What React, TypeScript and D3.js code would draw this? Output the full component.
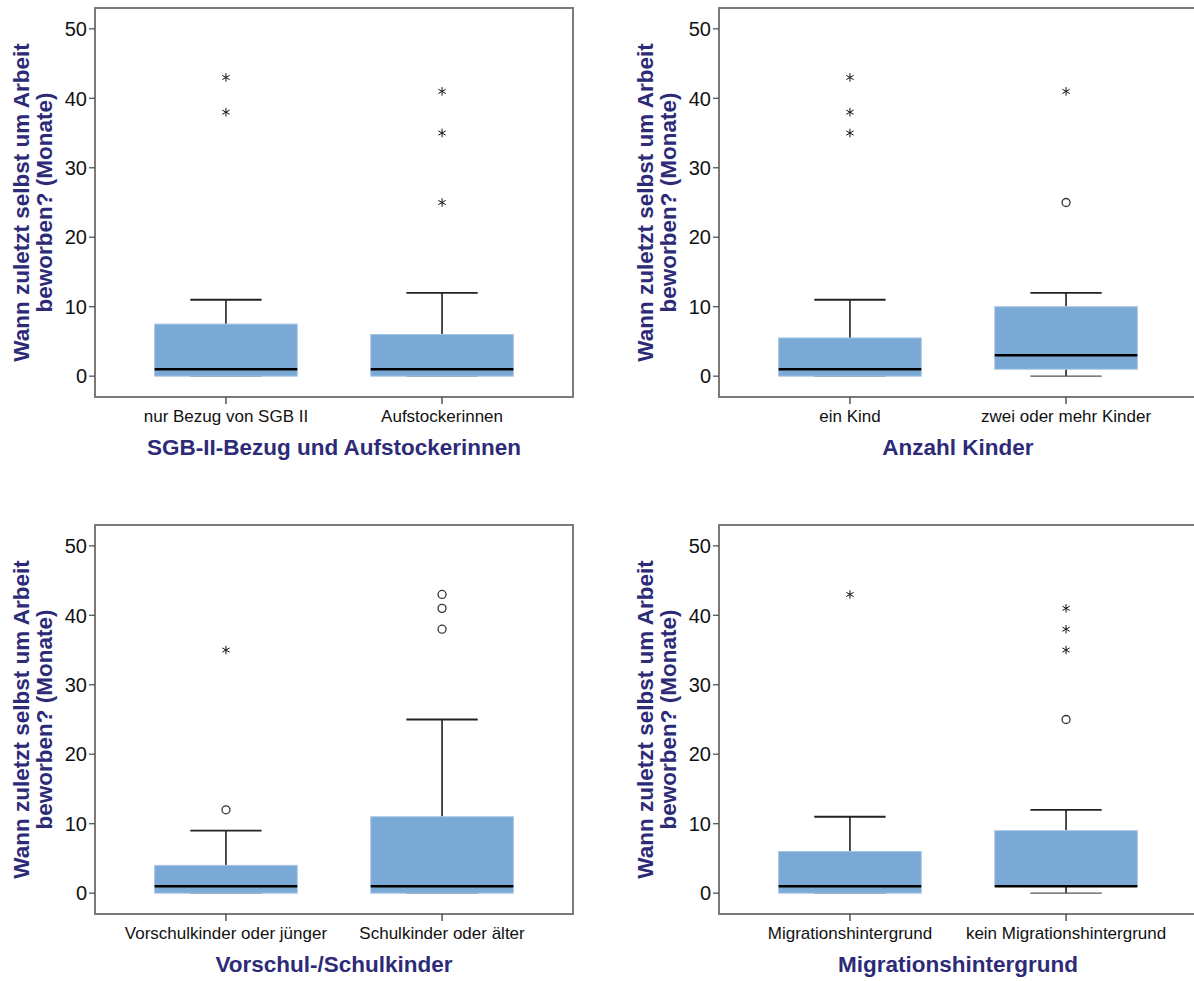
import React from "react";
import * as d3 from "d3";

const panelTitles = [
  "SGB-II-Bezug und Aufstockerinnen",
  "Anzahl Kinder",
  "Vorschul-/Schulkinder",
  "Migrationshintergrund",
];
const categories = [
  ["nur Bezug von SGB II", "Aufstockerinnen"],
  ["ein Kind", "zwei oder mehr Kinder"],
  ["Vorschulkinder oder jünger", "Schulkinder oder älter"],
  ["Migrationshintergrund", "kein Migrationshintergrund"],
];
const lowerWhisker = [[0, 0], [0, 0], [0, 0], [0, 0]];
const q1 = [[0, 0], [0, 1], [0, 0], [0, 1]];
const median = [[1, 1], [1, 3], [1, 1], [1, 1]];
const q3 = [[7.5, 6], [5.5, 10], [4, 11], [6, 9]];
const upperWhisker = [[11, 12], [11, 12], [9, 25], [11, 12]];
const circleOutliers = [[[], []], [[], [25]], [[12], [43, 41, 38]], [[], [25]]];
const starOutliers = [[[43, 38], [41, 35, 25]], [[43, 38, 35], [41]], [[35], []], [[43], [41, 38, 35]]];
const yTicks = [0, 10, 20, 30, 40, 50];
const yTitleLines = ["Wann zuletzt selbst um Arbeit", "beworben? (Monate)"];

const W = 1194;
const H = 981;
const frameW = 478;
const frameH = 389;
const panelOrigins = [
  [95, 8],
  [719, 8],
  [95, 525],
  [719, 525],
];
const FONT = "'Liberation Sans', Arial, sans-serif";
const TITLE_COLOR = "#2d2b78";
const BOX_FILL = "#7aa9d5";
const starPath = d3.symbol(d3.symbolAsterisk, 50)() as string;

function Panel({ idx }: { idx: number }) {
  const [x0, y0] = panelOrigins[idx];
  const y = d3.scaleLinear().domain([-3, 53]).range([y0 + frameH, y0]);
  const x = d3.scalePoint<string>().domain(categories[idx]).range([x0, x0 + frameW]).padding(0.606);
  const step = x.step();
  const boxW = step * 0.66;
  const capW = boxW / 2;
  return (
    <g>
      {categories[idx].map((c, i) => {
        const cx = x(c)!;
        return (
          <g key={c}>
            <line x1={cx} x2={cx} y1={y(q3[idx][i])} y2={y(upperWhisker[idx][i])} stroke="#111" strokeWidth={1.5} />
            <line x1={cx} x2={cx} y1={y(q1[idx][i])} y2={y(lowerWhisker[idx][i])} stroke="#111" strokeWidth={1.5} />
            <line x1={cx - capW / 2} x2={cx + capW / 2} y1={y(upperWhisker[idx][i])} y2={y(upperWhisker[idx][i])} stroke="#222" strokeWidth={1.8} />
            <line x1={cx - capW / 2} x2={cx + capW / 2} y1={y(lowerWhisker[idx][i])} y2={y(lowerWhisker[idx][i])} stroke="#555" strokeWidth={1.2} />
            <rect
              x={cx - boxW / 2}
              width={boxW}
              y={y(q3[idx][i])}
              height={y(q1[idx][i]) - y(q3[idx][i])}
              fill={BOX_FILL}
              stroke="#a6c6e6"
              strokeWidth={1}
            />
            <line x1={cx - boxW / 2} x2={cx + boxW / 2} y1={y(median[idx][i])} y2={y(median[idx][i])} stroke="#000" strokeWidth={2.5} />
            {circleOutliers[idx][i].map((v, k) => (
              <circle key={"c" + k} cx={cx} cy={y(v)} r={4} fill="#fff" stroke="#333" strokeWidth={1.3} />
            ))}
            {starOutliers[idx][i].map((v, k) => (
              <path key={"s" + k} d={starPath} transform={`translate(${cx},${y(v)})`} fill="#111" stroke="#111" strokeWidth={1} />
            ))}
          </g>
        );
      })}
      <rect x={x0} y={y0} width={frameW} height={frameH} fill="none" stroke="#7a7a7a" strokeWidth={2} />
      {yTicks.map((t) => (
        <g key={t}>
          <line x1={x0 - 6} x2={x0} y1={y(t)} y2={y(t)} stroke="#555" strokeWidth={1.3} />
          <text x={x0 - 8} y={y(t)} dy="0.36em" textAnchor="end" fontSize={20} fontFamily={FONT} fill="#111">
            {t}
          </text>
        </g>
      ))}
      {categories[idx].map((c) => (
        <g key={c}>
          <line x1={x(c)!} x2={x(c)!} y1={y0 + frameH} y2={y0 + frameH + 7} stroke="#555" strokeWidth={1.5} />
          <text x={x(c)!} y={y0 + frameH + 25} textAnchor="middle" fontSize={17} fontFamily={FONT} fill="#111">
            {c}
          </text>
        </g>
      ))}
      <text x={x0 + frameW / 2} y={y0 + frameH + 58} textAnchor="middle" fontSize={22.5} fontWeight="bold" fontFamily={FONT} fill={TITLE_COLOR}>
        {panelTitles[idx]}
      </text>
      {yTitleLines.map((line, k) => (
        <text
          key={k}
          transform={`translate(${x0 - 66 + k * 23},${y0 + frameH / 2}) rotate(-90)`}
          textAnchor="middle"
          fontSize={22.5}
          fontWeight="bold"
          fontFamily={FONT}
          fill={TITLE_COLOR}
        >
          {line}
        </text>
      ))}
    </g>
  );
}

export default function App() {
  return (
    <svg width={W} height={H} style={{ position: "absolute", left: 0, top: 0, background: "#fff" }}>
      <rect width={W} height={H} fill="#fff" />
      {panelOrigins.map((_, i) => (
        <Panel key={i} idx={i} />
      ))}
    </svg>
  );
}
